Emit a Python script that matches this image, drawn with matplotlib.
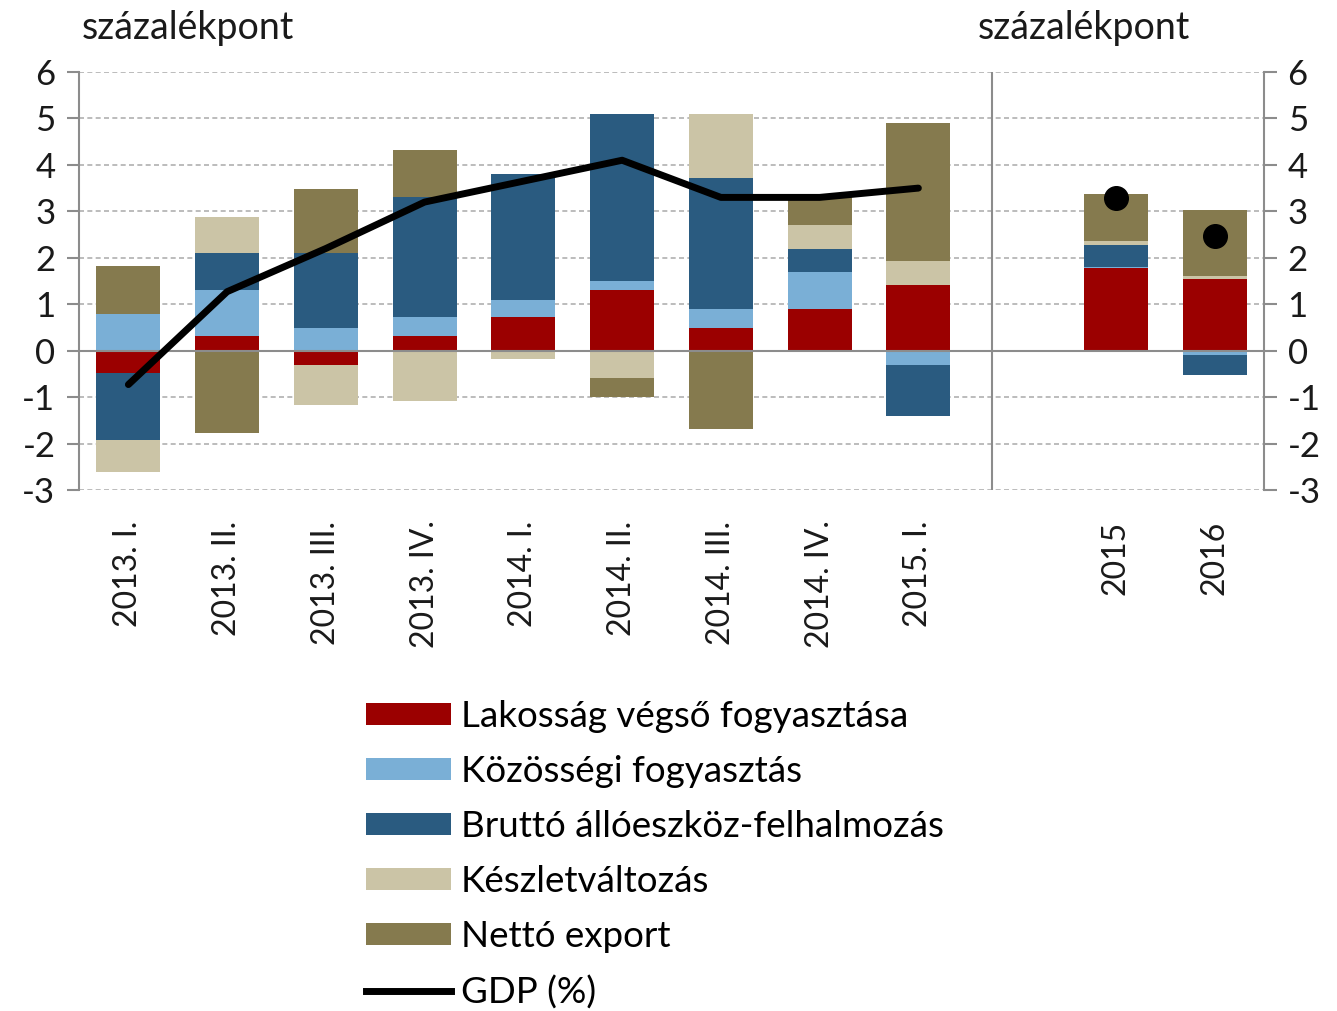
import numpy as np
import matplotlib
matplotlib.use("Agg")
import matplotlib.pyplot as plt
from matplotlib.patches import Patch
from matplotlib.lines import Line2D

plt.rcParams['font.family'] = ['Lato', 'DejaVu Sans']
plt.rcParams['axes.unicode_minus'] = False

categories = ["2013. I.", "2013. II.", "2013. III.", "2013. IV.", "2014. I.",
              "2014. II.", "2014. III.", "2014. IV.", "2015. I.", "", "2015", "2016"]
lakossag = [-0.48, 0.31, -0.30, 0.31, 0.72, 1.31, 0.49, 0.90, 1.41, np.nan, 1.77, 1.55]
kozossegi = [0.80, 1.00, 0.49, 0.41, 0.38, 0.20, 0.41, 0.79, -0.30, np.nan, 0.03, -0.09]
brutto = [-1.44, 0.79, 1.61, 2.59, 2.71, 3.58, 2.82, 0.50, -1.10, np.nan, 0.47, -0.43]
keszlet = [-0.70, 0.78, -0.86, -1.09, -0.19, -0.59, 1.38, 0.51, 0.52, np.nan, 0.10, 0.05]
netto = [1.02, -1.77, 1.38, 1.02, 0.00, -0.41, -1.69, 0.60, 2.98, np.nan, 1.00, 1.42]
gdp_quarterly = [-0.73, 1.27, 2.20, 3.20, 3.65, 4.10, 3.30, 3.30, 3.50]
gdp_annual = [3.29, 2.46]
series_names = ["Lakosság végső fogyasztása", "Közösségi fogyasztás",
                "Bruttó állóeszköz-felhalmozás", "Készletváltozás", "Nettó export"]
gdp_name = "GDP (%)"

colors = ["#9b0000", "#7aafd6", "#2a5b80", "#cbc4a6", "#857a4e"]
series = [lakossag, kozossegi, brutto, keszlet, netto]

fig = plt.figure(figsize=(13.37, 10.11), dpi=100)
ax = fig.add_axes([79/1337, 1-490/1011, (1264-79)/1337, (490-72)/1011])

x = np.arange(len(categories))
pos_base = np.zeros(len(categories))
neg_base = np.zeros(len(categories))
for vals, c in zip(series, colors):
    v = np.nan_to_num(np.array(vals, dtype=float))
    bottoms = np.where(v >= 0, pos_base, neg_base)
    mask = np.array([not np.isnan(a) for a in vals])
    ax.bar(x[mask], v[mask], bottom=bottoms[mask], width=0.65, color=c, zorder=3, linewidth=0)
    pos_base = pos_base + np.where(v > 0, v, 0)
    neg_base = neg_base + np.where(v < 0, v, 0)

ax.plot(x[:9], gdp_quarterly, color="black", lw=5, zorder=5, solid_capstyle="round",
        solid_joinstyle="round")
ax.plot(x[10:], gdp_annual, 'o', color="black", markersize=17, zorder=5)

ax.set_xlim(-0.5, 11.5)
ax.set_ylim(-3, 6)
ax.set_yticks(range(-3, 7))
for yv in range(-3, 7):
    if yv != 0:
        ax.axhline(yv, color="#b0b0b0", lw=1.2, ls=(0, (3, 2)), zorder=1)
ax.axhline(0, color="#8c8c8c", lw=1.5, zorder=4)
ax.axvline(8.75, color="#8c8c8c", lw=1.5, zorder=2)

ax.set_xticks(x)
ax.set_xticklabels(categories, rotation=90, fontsize=23, color="#1a1a1a")
ax.tick_params(axis='x', length=0, pad=22)
ax.tick_params(axis='y', length=9, width=1.5, color="#8c8c8c", labelsize=25,
               labelcolor="#1a1a1a", pad=8, left=True, right=True,
               labelleft=True, labelright=True)
for s in ["top", "bottom"]:
    ax.spines[s].set_visible(False)
for s in ["left", "right"]:
    ax.spines[s].set_color("#8c8c8c")
    ax.spines[s].set_linewidth(1.5)

fig.text(82/1337, 1-28/1011, "százalékpont", fontsize=27, color="#1a1a1a", va="center", ha="left")
fig.text(978/1337, 1-28/1011, "százalékpont", fontsize=27, color="#1a1a1a", va="center", ha="left")

handles = [Patch(facecolor=c, edgecolor="none") for c in colors]
handles.append(Line2D([0], [0], color="black", lw=5))
labels = series_names + [gdp_name]
fig.legend(handles, labels, loc="upper left", bbox_to_anchor=(366/1337, 1-700/1011),
           frameon=False, fontsize=26.5, handlelength=2.3, handleheight=0.55,
           handletextpad=0.28, labelspacing=0.6, borderpad=0, borderaxespad=0)

fig.savefig("out.png", dpi=100)
